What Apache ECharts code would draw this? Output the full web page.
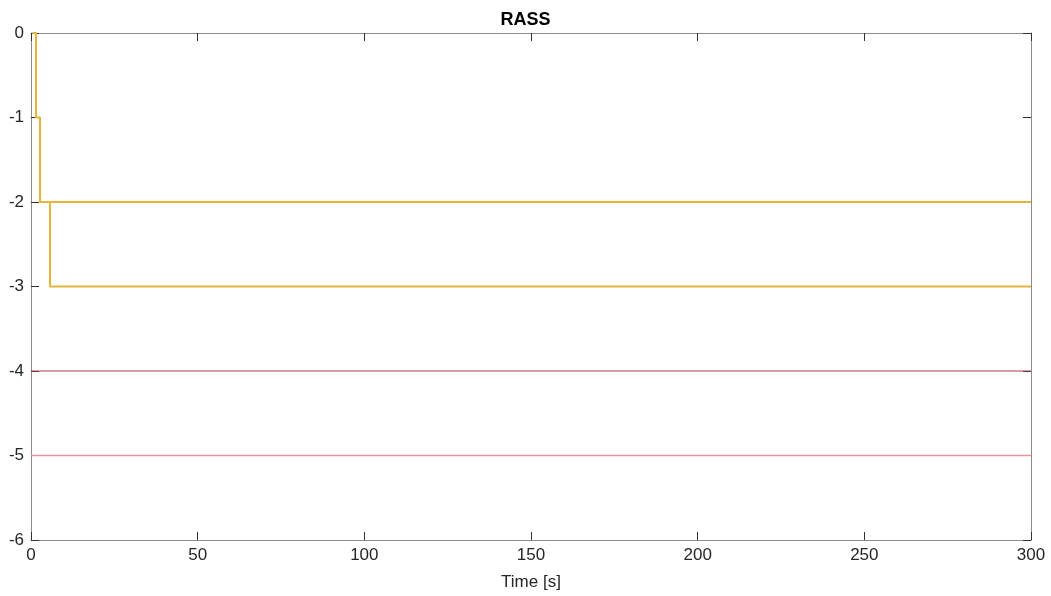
<!DOCTYPE html>
<html>
<head>
<meta charset="utf-8">
<script src="https://cdn.jsdelivr.net/npm/echarts@6/dist/echarts.min.js"></script>
<style>
html, body { margin: 0; padding: 0; background: #fff; }
#chart { width: 1051px; height: 596px; }
</style>
</head>
<body>
<div id="chart"></div>
<script>
// step lines (time [s], RASS)
var rassA = [[0.4, 0], [1.5, 0], [1.5, -1], [2.7, -1], [2.7, -2], [300, -2]];
var rassB = [[2.7, -2], [5.7, -2], [5.7, -3], [300, -3]];
var limitLow = [[0, -4], [300, -4]];
var limitVeryLow = [[0, -5], [300, -5]];
var xTicks = [0, 50, 100, 150, 200, 250, 300];
var yTicks = [0, -1, -2, -3, -4, -5, -6];

var myChart = echarts.init(document.getElementById('chart'));

function axisBase() {
	return {
		type: 'value',
		axisLine: { show: true, onZero: false, lineStyle: { color: '#8c8c8c', width: 1 } },
		axisTick: { show: true, inside: true, length: 8, lineStyle: { color: '#333' } },
		splitLine: { show: false }
	};
}
var labelStyle = { fontFamily: 'Liberation Sans', fontSize: 17, color: '#262626', margin: 7 };

var option = {
	animation: false,
	title: {
		text: 'RASS',
		left: 'center',
		top: 6,
		textStyle: { fontFamily: 'Liberation Sans', fontSize: 18, fontWeight: 'bold', color: '#000' }
	},
	grid: { left: 31, right: 20, top: 33, bottom: 55 },
	xAxis: [
		Object.assign(axisBase(), {
			position: 'bottom',
			min: xTicks[0], max: xTicks[xTicks.length - 1], interval: 50,
			name: 'Time [s]',
			nameLocation: 'middle',
			nameGap: 34,
			nameTextStyle: { fontFamily: 'Liberation Sans', fontSize: 17, color: '#262626' },
			axisLabel: labelStyle
		}),
		Object.assign(axisBase(), {
			position: 'top',
			min: xTicks[0], max: xTicks[xTicks.length - 1], interval: 50,
			axisLabel: { show: false }
		})
	],
	yAxis: [
		Object.assign(axisBase(), {
			position: 'left',
			min: yTicks[yTicks.length - 1], max: yTicks[0], interval: 1,
			axisLabel: labelStyle
		}),
		Object.assign(axisBase(), {
			position: 'right',
			min: yTicks[yTicks.length - 1], max: yTicks[0], interval: 1,
			axisLabel: { show: false }
		})
	],
	series: [
		{
			type: 'line', data: limitLow, symbol: 'none',
			lineStyle: { color: '#a8404c', width: 1.2 }
		},
		{
			type: 'line', data: limitVeryLow, symbol: 'none',
			lineStyle: { color: '#e8939e', width: 1.4 }
		},
		{
			type: 'line', data: rassB, symbol: 'none',
			lineStyle: { color: '#e6b53a', width: 2 }
		},
		{
			type: 'line', data: rassA, symbol: 'none',
			lineStyle: { color: '#e6b53a', width: 2 }
		}
	]
};

myChart.setOption(option);
</script>
</body>
</html>
